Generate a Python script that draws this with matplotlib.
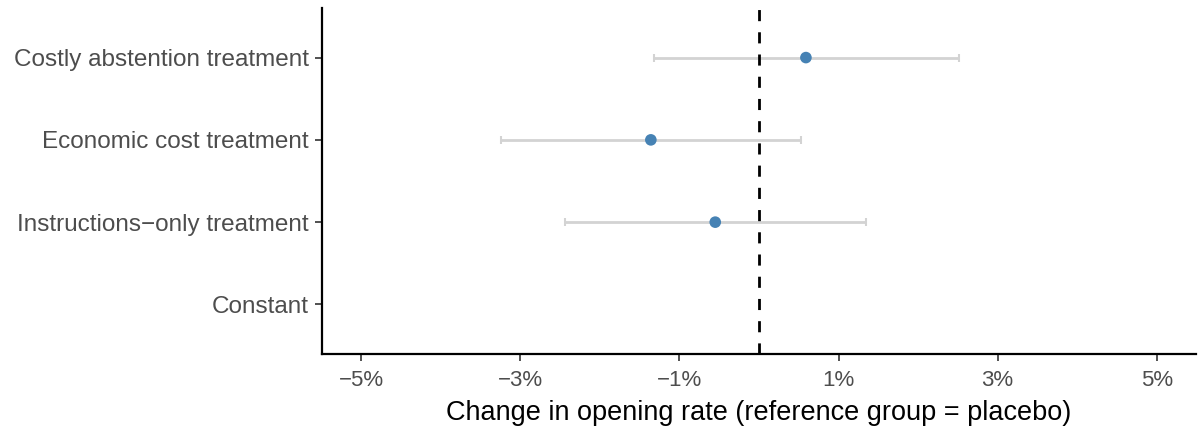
import numpy as np
import matplotlib.pyplot as plt

# Coefficients (in %) and 95% CI bounds
terms = ["Constant", "Instructions\u2212only treatment", "Economic cost treatment", "Costly abstention treatment"]
estimate = [np.nan, -0.55, -1.36, 0.59]
ci_low = [np.nan, -2.44, -3.25, -1.32]
ci_high = [np.nan, 1.35, 0.53, 2.52]
x_ticks = [-5, -3, -1, 1, 3, 5]

plt.rcParams['font.family'] = ['Liberation Sans', 'DejaVu Sans']

fig = plt.figure(figsize=(12, 4.32), dpi=100)
ax = fig.add_axes([0.268, 0.181, 0.729, 0.800])

y = np.arange(1, len(terms) + 1)
est = np.array(estimate)
lo = np.array(ci_low)
hi = np.array(ci_high)

ax.errorbar(est, y, xerr=[est - lo, hi - est], fmt='none', ecolor='#d3d3d3',
            elinewidth=2, capsize=3, capthick=1.5, zorder=1)
ax.scatter(est, y, color='#4682b4', s=70, zorder=3, edgecolors='none')
ax.axvline(0, color='black', linestyle=(0, (4, 4)), linewidth=2, zorder=2)

ax.set_xlim(-5.5, 5.5)
ax.set_ylim(0.4, 4.6)
ax.set_yticks(y)
ax.set_yticklabels(terms)
ax.set_xticks(x_ticks)
ax.set_xticklabels([f"{v}%".replace("-", "\u2212") for v in x_ticks])

ax.tick_params(axis='both', labelcolor='#4d4d4d', color='#333333',
               length=5, width=1.2)
ax.tick_params(axis='x', labelsize=16, pad=7)
ax.tick_params(axis='y', labelsize=17.5, pad=4)

for side in ['top', 'right']:
    ax.spines[side].set_visible(False)
for side in ['left', 'bottom']:
    ax.spines[side].set_linewidth(1.6)
    ax.spines[side].set_color('black')

ax.set_xlabel("Change in opening rate (reference group = placebo)", fontsize=19.5,
              color='black', labelpad=6)

fig.savefig("out.png", dpi=100)
